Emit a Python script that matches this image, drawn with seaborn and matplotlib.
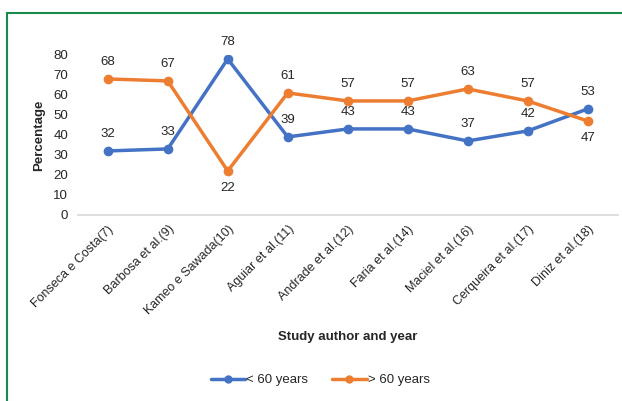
import numpy as np
import pandas as pd
import matplotlib
matplotlib.use("Agg")
import matplotlib.pyplot as plt
import seaborn as sns
from matplotlib.patches import Rectangle

sns.set_theme(style="white")
plt.rcParams['font.family'] = ['Liberation Sans', 'DejaVu Sans']

# Data
studies = ["Fonseca e Costa(7)", "Barbosa et al.(9)", "Kameo e Sawada(10)",
           "Aguiar et al.(11)", "Andrade et al.(12)", "Faria et al.(14)",
           "Maciel et al.(16)", "Cerqueira et al.(17)", "Diniz et al.(18)"]
under_60 = [32, 33, 78, 39, 43, 43, 37, 42, 53]
over_60 = [68, 67, 22, 61, 57, 57, 63, 57, 47]
series_names = ["< 60 years", "> 60 years"]
colors = ["#4472C4", "#ED7D31"]

df = pd.DataFrame({"study": studies * 2,
                   "pct": under_60 + over_60,
                   "group": [series_names[0]] * 9 + [series_names[1]] * 9})
df["pos"] = list(range(9)) * 2

fig = plt.figure(figsize=(6.22, 4.01), dpi=100)
ax = fig.add_axes([0.125, 0.464, 0.868, 0.399])

sns.lineplot(data=df, x="pos", y="pct", hue="group", palette=colors,
             marker="o", markersize=7, markeredgewidth=0, linewidth=2.5,
             ax=ax, legend=False)

# data labels
for i in range(9):
    a, b = under_60[i], over_60[i]
    ax.annotate(str(a), (i, a), xytext=(0, 8), textcoords="offset points",
                ha="center", va="bottom", fontsize=9.5, color="#262626")
    if b < a:
        ax.annotate(str(b), (i, b), xytext=(0, -8), textcoords="offset points",
                    ha="center", va="top", fontsize=9.5, color="#262626")
    else:
        ax.annotate(str(b), (i, b), xytext=(0, 8), textcoords="offset points",
                    ha="center", va="bottom", fontsize=9.5, color="#262626")

ax.set_xlim(-0.5, 8.5)
ax.set_ylim(0, 80)
ax.set_yticks(range(0, 81, 10))
ax.set_xticks(range(9))
ax.set_xticklabels(studies, rotation=45, ha="right", rotation_mode="anchor",
                   fontsize=9)
ax.tick_params(axis="y", labelsize=9.5, length=0, pad=7)
ax.tick_params(axis="x", length=0, pad=6)
# Excel-style category ticks between labels
ax.set_xticks(np.arange(-0.5, 9, 1), minor=True)
ax.tick_params(axis="x", which="minor", length=4, color="#d9d9d9", width=0.8)
for s in ["top", "right", "left"]:
    ax.spines[s].set_visible(False)
ax.spines["bottom"].set_color("#d9d9d9")

ax.set_xlabel("Study author and year", fontsize=9.5, fontweight="bold", labelpad=10)
ax.set_ylabel("Percentage", fontsize=9.5, fontweight="bold", labelpad=6)

handles = [plt.Line2D([], [], color=c, marker="o", markersize=5, linewidth=2.5)
           for c in colors]
fig.legend(handles, series_names, loc="center", bbox_to_anchor=(0.515, 0.052),
           ncol=2, frameon=False, fontsize=9.5, handlelength=2.6,
           handletextpad=0.1, columnspacing=1.8)

# green frame
fig.patches.append(Rectangle((7 / 622, -0.05), 1.1, 1 - 13 / 401 + 0.05,
                             transform=fig.transFigure, fill=False,
                             edgecolor="#1a8a4a", linewidth=1.5))

fig.savefig("out.png", dpi=100)
